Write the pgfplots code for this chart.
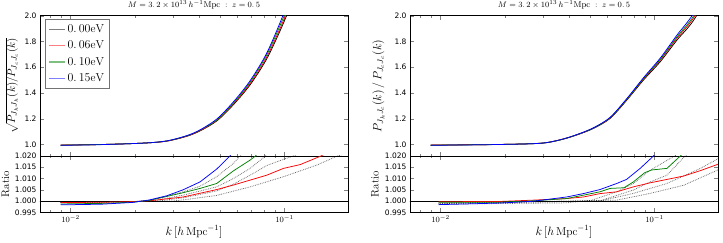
\documentclass[border=0pt]{standalone}
\usepackage{pgfplots}
\pgfplotsset{compat=1.18}
\usepackage{fontspec}
\newfontfamily\dvs{DejaVu Sans}
\definecolor{mplgreen}{rgb}{0,0.5,0}
\definecolor{mplred}{rgb}{1,0,0}
\definecolor{mplblue}{rgb}{0,0,1}
\tikzset{mydots/.style={black, opacity=0.6, densely dotted, line width=0.75pt}}
\begin{document}
\begin{tikzpicture}
\useasboundingbox (0,0) rectangle (723pt,243pt);
% ---------------- left top ----------------
\begin{axis}[xmode=log, xmin=0.0072, xmax=0.198, scale only axis, width=308pt, height=140.3pt,
  at={(40pt,87pt)}, anchor=south west,
  tick align=inside, major tick length=4pt, minor tick length=2pt,
  axis line style={line width=0.7pt},
  yticklabel style={font=\dvs\fontsize{7.5}{9}\selectfont},
  ymin=0.91, ymax=2.0,
  ytick={1.0,1.2,1.4,1.6,1.8,2.0}, yticklabels={1.0,1.2,1.4,1.6,1.8,2.0},
  xticklabels={},
  title={$M=3.\,2\times10^{13}\,h^{-1}\mathrm{Mpc}\;:\;z=0.\,5$},
  title style={font=\fontsize{8.5}{10}\selectfont, at={(axis description cs:0.5,1)}, anchor=base, yshift=2.6pt, inner sep=0pt},
  ylabel={$\sqrt{P_{J_hJ_h}(k)/P_{J_cJ_c}(k)}$},
  ylabel style={font=\fontsize{11}{13}\selectfont, at={(axis description cs:-0.060,0.5)}, anchor=south},
  legend style={at={(axis description cs:0.016,0.974)}, anchor=north west, draw=black!55, line width=0.8pt,
     font=\fontsize{11.5}{14}\selectfont, inner xsep=3pt, inner ysep=3pt, row sep=3pt},
  legend cell align=left,
  legend image code/.code={\draw[#1, line width=1.3pt, opacity=0.5] (0pt,0pt) -- (16pt,0pt);}]
\addplot[black, smooth, line width=0.75pt] coordinates {(0.0090,0.995) (0.0137,0.999) (0.0218,1.010) (0.0281,1.025) (0.0349,1.063) (0.0403,1.105) (0.0483,1.183) (0.0578,1.310) (0.0692,1.465) (0.0829,1.670) (0.0993,1.950) (0.1100,2.150) (0.1300,2.6) (0.2,4.5)};
\addlegendentry{$0.\,00\mathrm{eV}$}
\addplot[mplred, smooth, line width=0.75pt] coordinates {(0.0090,0.9943) (0.0137,0.999) (0.0218,1.010) (0.0281,1.0255) (0.0349,1.064) (0.0403,1.107) (0.0483,1.187) (0.0578,1.316) (0.0692,1.474) (0.0829,1.684) (0.0993,1.970) (0.1100,2.18) (0.1300,2.65) (0.2,4.6)};
\addlegendentry{$0.\,06\mathrm{eV}$}
\addplot[mplgreen, smooth, line width=0.75pt] coordinates {(0.0090,0.9939) (0.0137,0.999) (0.0218,1.010) (0.0281,1.0265) (0.0349,1.066) (0.0403,1.110) (0.0483,1.190) (0.0578,1.322) (0.0692,1.486) (0.0829,1.702) (0.0993,1.995) (0.1100,2.21) (0.1300,2.68) (0.2,4.65)};
\addlegendentry{$0.\,10\mathrm{eV}$}
\addplot[mplblue, smooth, line width=0.75pt] coordinates {(0.0090,0.9934) (0.0137,0.998) (0.0218,1.010) (0.0281,1.027) (0.0349,1.068) (0.0403,1.113) (0.0483,1.198) (0.0578,1.332) (0.0692,1.497) (0.0829,1.715) (0.0993,2.020) (0.1100,2.24) (0.1300,2.71) (0.2,4.7)};
\addlegendentry{$0.\,15\mathrm{eV}$}
\end{axis}
% ---------------- left bottom ----------------
\begin{axis}[xmode=log, xmin=0.0072, xmax=0.198, scale only axis, width=308pt, height=56.3pt,
  at={(40pt,30.7pt)}, anchor=south west,
  tick align=inside, major tick length=4pt, minor tick length=2pt,
  axis line style={line width=0.7pt},
  yticklabel style={font=\dvs\fontsize{7.5}{9}\selectfont},
  xticklabel style={font=\fontsize{8}{9}\selectfont},
  ymin=0.995, ymax=1.020,
  ytick={0.995,1.000,1.005,1.010,1.015,1.020}, yticklabels={0.995,1.000,1.005,1.010,1.015,1.020},
  xlabel={$k\,[h\,\mathrm{Mpc}^{-1}]$},
  xlabel style={font=\fontsize{11.5}{13}\selectfont, at={(axis description cs:0.5,-0.35)}, anchor=center},
  ylabel={Ratio},
  ylabel style={font=\fontsize{11}{13}\selectfont, at={(axis description cs:-0.088,0.5)}, anchor=south}]
\addplot[black, line width=0.75pt] coordinates {(0.005,1) (0.3,1)};
\addplot[mydots] coordinates {(0.0090,0.9992) (0.0200,0.9998) (0.0234,1.0003) (0.0336,1.0041) (0.0403,1.0066) (0.0482,1.0108) (0.0577,1.0167) (0.0620,1.0200) (0.0680,1.025)};
\addplot[mydots] coordinates {(0.0090,0.9993) (0.0200,0.9997) (0.0250,1.0003) (0.0336,1.0026) (0.0482,1.0063) (0.0577,1.0100) (0.0691,1.0145) (0.0815,1.0200) (0.0900,1.024)};
\addplot[mydots] coordinates {(0.0090,0.9994) (0.0250,0.9999) (0.0336,1.0014) (0.0482,1.0045) (0.0577,1.0075) (0.0691,1.0115) (0.0827,1.0158) (0.0989,1.0185) (0.1100,1.0200) (0.1300,1.023)};
\addplot[mydots] coordinates {(0.0090,0.9995) (0.0300,1.0000) (0.0336,1.0005) (0.0482,1.0025) (0.0691,1.0063) (0.0989,1.0108) (0.1419,1.0160) (0.1766,1.0200) (0.2,1.0215)};
\addplot[mplred, line width=0.75pt] coordinates {(0.0090,0.9993) (0.0150,0.9995) (0.0200,0.9998) (0.0234,1.0001) (0.0336,1.0018) (0.0482,1.0051) (0.0577,1.0071) (0.0691,1.0093) (0.0827,1.0115) (0.0989,1.0145) (0.1185,1.0162) (0.1480,1.0200) (0.1700,1.023)};
\addplot[mplgreen, line width=0.75pt] coordinates {(0.0090,0.9987) (0.0150,0.9990) (0.0200,0.9996) (0.0234,1.0003) (0.0336,1.0037) (0.0403,1.0056) (0.0482,1.0078) (0.0577,1.0134) (0.0691,1.0182) (0.0731,1.0200) (0.0800,1.024)};
\addplot[mplblue, line width=0.75pt] coordinates {(0.0090,0.9983) (0.0140,0.9986) (0.0196,0.9994) (0.0234,1.0005) (0.0281,1.0023) (0.0336,1.0050) (0.0403,1.0085) (0.0482,1.0142) (0.0556,1.0200) (0.0620,1.027)};
\end{axis}
% ---------------- right top ----------------
\begin{axis}[xmode=log, xmin=0.0072, xmax=0.198, scale only axis, width=308pt, height=140.3pt,
  at={(410pt,87pt)}, anchor=south west,
  tick align=inside, major tick length=4pt, minor tick length=2pt,
  axis line style={line width=0.7pt},
  yticklabel style={font=\dvs\fontsize{7.5}{9}\selectfont},
  ymin=0.91, ymax=2.0,
  ytick={1.0,1.2,1.4,1.6,1.8,2.0}, yticklabels={1.0,1.2,1.4,1.6,1.8,2.0},
  xticklabels={},
  title={$M=3.\,2\times10^{13}\,h^{-1}\mathrm{Mpc}\;:\;z=0.\,5$},
  title style={font=\fontsize{8.5}{10}\selectfont, at={(axis description cs:0.5,1)}, anchor=base, yshift=2.6pt, inner sep=0pt},
  ylabel={$P_{J_hJ_c}(k)\,/\,P_{J_cJ_c}(k)$},
  ylabel style={font=\fontsize{11.5}{13}\selectfont, at={(axis description cs:-0.071,0.5)}, anchor=south}]
\addplot[black, smooth, line width=0.75pt] coordinates {(0.0090,0.995) (0.0176,0.999) (0.0291,1.008) (0.0361,1.034) (0.0433,1.073) (0.0518,1.124) (0.0620,1.202) (0.0743,1.345) (0.0888,1.500) (0.1063,1.642) (0.1274,1.811) (0.1525,1.966) (0.2,2.3)};
\addplot[mplred, smooth, line width=0.75pt] coordinates {(0.0090,0.9944) (0.0176,0.999) (0.0291,1.009) (0.0361,1.0353) (0.0433,1.0745) (0.0518,1.126) (0.0620,1.205) (0.0743,1.350) (0.0888,1.507) (0.1063,1.654) (0.1274,1.825) (0.1525,1.985) (0.2,2.33)};
\addplot[mplgreen, smooth, line width=0.75pt] coordinates {(0.0090,0.9937) (0.0176,0.9988) (0.0291,1.0088) (0.0361,1.035) (0.0433,1.075) (0.0518,1.127) (0.0620,1.207) (0.0743,1.352) (0.0888,1.511) (0.1063,1.660) (0.1274,1.836) (0.1525,2.00) (0.2,2.35)};
\addplot[mplblue, smooth, line width=0.75pt] coordinates {(0.0090,0.9933) (0.0176,0.9985) (0.0291,1.0085) (0.0361,1.0355) (0.0433,1.076) (0.0518,1.129) (0.0620,1.210) (0.0743,1.357) (0.0888,1.518) (0.1063,1.670) (0.1274,1.850) (0.1525,2.02) (0.2,2.37)};
\end{axis}
% ---------------- right bottom ----------------
\begin{axis}[xmode=log, xmin=0.0072, xmax=0.198, scale only axis, width=308pt, height=56.3pt,
  at={(410pt,30.7pt)}, anchor=south west,
  tick align=inside, major tick length=4pt, minor tick length=2pt,
  axis line style={line width=0.7pt},
  yticklabel style={font=\dvs\fontsize{7.5}{9}\selectfont},
  xticklabel style={font=\fontsize{8}{9}\selectfont},
  ymin=0.995, ymax=1.020,
  ytick={0.995,1.000,1.005,1.010,1.015,1.020}, yticklabels={0.995,1.000,1.005,1.010,1.015,1.020},
  xlabel={$k\,[h\,\mathrm{Mpc}^{-1}]$},
  xlabel style={font=\fontsize{11.5}{13}\selectfont, at={(axis description cs:0.5,-0.35)}, anchor=center},
  ylabel={Ratio},
  ylabel style={font=\fontsize{11}{13}\selectfont, at={(axis description cs:-0.09,0.5)}, anchor=south}]
\addplot[black, line width=0.75pt] coordinates {(0.005,1) (0.3,1)};
\addplot[mydots] coordinates {(0.0098,0.9986) (0.0388,0.9992) (0.0510,1.0004) (0.0666,1.0041) (0.0797,1.0078) (0.0955,1.0137) (0.1050,1.0160) (0.1240,1.0200) (0.1400,1.023)};
\addplot[mydots] coordinates {(0.0098,0.9988) (0.0556,1.0001) (0.0797,1.0049) (0.0955,1.0085) (0.1143,1.0115) (0.1390,1.0200) (0.1600,1.025)};
\addplot[mydots] coordinates {(0.0098,0.9990) (0.0556,1.0000) (0.0797,1.0034) (0.1143,1.0078) (0.1638,1.0145) (0.2,1.0190)};
\addplot[mydots] coordinates {(0.0098,0.9991) (0.0666,1.0004) (0.0955,1.0034) (0.1368,1.0070) (0.2,1.0140)};
\addplot[mplred, line width=0.75pt] coordinates {(0.0098,0.9997) (0.0189,0.9998) (0.0271,1.0004) (0.0388,1.0011) (0.0465,1.0018) (0.0556,1.0033) (0.0666,1.0041) (0.0797,1.0063) (0.0955,1.0081) (0.1143,1.0096) (0.1368,1.0111) (0.1638,1.0135) (0.2,1.0165)};
\addplot[mplgreen, line width=0.75pt] coordinates {(0.0098,0.9995) (0.0189,0.9995) (0.0271,1.0001) (0.0388,1.0011) (0.0465,1.0026) (0.0556,1.0041) (0.0620,1.0056) (0.0720,1.0059) (0.0797,1.0085) (0.0900,1.0126) (0.0970,1.0138) (0.1143,1.0145) (0.1320,1.0200) (0.1450,1.024)};
\addplot[mplblue, line width=0.75pt] coordinates {(0.0098,0.9984) (0.0189,0.9991) (0.0271,0.9999) (0.0388,1.0018) (0.0465,1.0033) (0.0556,1.0051) (0.0666,1.0078) (0.0740,1.0096) (0.0857,1.0145) (0.0989,1.0200) (0.1100,1.025)};
\end{axis}
\end{tikzpicture}
\end{document}
